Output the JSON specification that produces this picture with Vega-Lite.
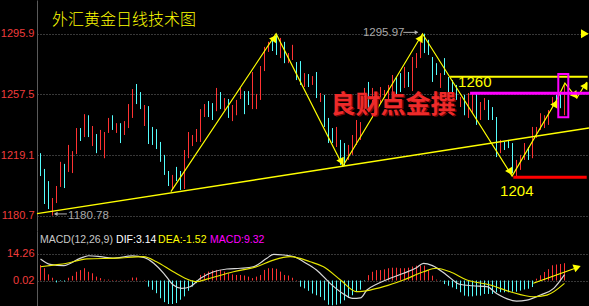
{
"$schema": "https://vega.github.io/schema/vega-lite/v6.json",
"background": "#000000",
"padding": 0,
"spacing": 0,
"config": {"view": {"stroke": null}},
"resolve": {"scale": {"y": "independent"}},
"datasets": {
"bars": [
{"k":0,"h":1220.3,"l":1205.8,"d":"c"},{"k":1,"h":1210.3,"l":1188.1,"d":"c"},{"k":2,"h":1202.6,"l":1184.9,"d":"c"},{"k":3,"h":1191.9,"l":1180.78,"d":"u"},{"k":4,"h":1199.5,"l":1188.7,"d":"u"},{"k":5,"h":1214.8,"l":1198.9,"d":"u"},{"k":6,"h":1213.5,"l":1198.2,"d":"c"},{"k":7,"h":1225.5,"l":1208.4,"d":"u"},{"k":8,"h":1221.6,"l":1207.7,"d":"u"},{"k":9,"h":1236.2,"l":1219.7,"d":"u"},
{"k":10,"h":1236.2,"l":1228.0,"d":"c"},{"k":11,"h":1245.0,"l":1230.5,"d":"u"},{"k":12,"h":1244.3,"l":1230.5,"d":"c"},{"k":13,"h":1237.5,"l":1224.8,"d":"u"},{"k":14,"h":1232.4,"l":1220.3,"d":"c"},{"k":15,"h":1235.0,"l":1222.3,"d":"u"},{"k":16,"h":1233.7,"l":1217.1,"d":"u"},{"k":17,"h":1242.6,"l":1233.1,"d":"u"},{"k":18,"h":1244.3,"l":1235.0,"d":"c"},{"k":19,"h":1239.3,"l":1233.1,"d":"u"},
{"k":20,"h":1239.3,"l":1226.7,"d":"c"},{"k":21,"h":1240.6,"l":1231.8,"d":"u"},{"k":22,"h":1251.4,"l":1236.2,"d":"u"},{"k":23,"h":1260.9,"l":1242.6,"d":"u"},{"k":24,"h":1264.1,"l":1251.4,"d":"c"},{"k":25,"h":1259.0,"l":1248.2,"d":"c"},{"k":26,"h":1250.8,"l":1237.5,"d":"u"},{"k":27,"h":1250.1,"l":1226.1,"d":"c"},{"k":28,"h":1236.9,"l":1225.5,"d":"c"},{"k":29,"h":1235.5,"l":1222.9,"d":"c"},
{"k":30,"h":1227.4,"l":1214.8,"d":"c"},{"k":31,"h":1219.2,"l":1206.5,"d":"c"},{"k":32,"h":1209.0,"l":1199.5,"d":"c"},{"k":33,"h":1206.5,"l":1197.0,"d":"u"},{"k":34,"h":1211.6,"l":1202.6,"d":"c"},{"k":35,"h":1209.0,"l":1197.0,"d":"c"},{"k":36,"h":1222.3,"l":1197.6,"d":"u"},{"k":37,"h":1233.7,"l":1217.1,"d":"u"},{"k":38,"h":1231.8,"l":1224.8,"d":"u"},{"k":39,"h":1235.6,"l":1227.4,"d":"u"},
{"k":40,"h":1248.2,"l":1227.4,"d":"u"},{"k":41,"h":1251.4,"l":1243.2,"d":"u"},{"k":42,"h":1253.3,"l":1243.2,"d":"c"},{"k":43,"h":1252.0,"l":1241.3,"d":"c"},{"k":44,"h":1261.6,"l":1246.9,"d":"u"},{"k":45,"h":1259.0,"l":1248.2,"d":"c"},{"k":46,"h":1255.2,"l":1247.6,"d":"u"},{"k":47,"h":1254.6,"l":1242.6,"d":"c"},{"k":48,"h":1250.8,"l":1240.6,"d":"u"},{"k":49,"h":1254.0,"l":1244.3,"d":"u"},
{"k":50,"h":1261.6,"l":1254.6,"d":"u"},{"k":51,"h":1259.6,"l":1245.0,"d":"c"},{"k":52,"h":1259.6,"l":1250.8,"d":"c"},{"k":53,"h":1271.7,"l":1248.2,"d":"u"},{"k":54,"h":1257.8,"l":1248.2,"d":"u"},{"k":55,"h":1275.5,"l":1254.0,"d":"u"},{"k":56,"h":1287.6,"l":1272.3,"d":"u"},{"k":57,"h":1290.8,"l":1284.4,"d":"u"},{"k":58,"h":1292.7,"l":1285.0,"d":"c"},{"k":59,"h":1295.9,"l":1282.5,"d":"c"},
{"k":60,"h":1293.3,"l":1280.5,"d":"u"},{"k":61,"h":1290.8,"l":1277.3,"d":"c"},{"k":62,"h":1283.7,"l":1277.3,"d":"u"},{"k":63,"h":1288.9,"l":1279.3,"d":"u"},{"k":64,"h":1278.0,"l":1266.6,"d":"c"},{"k":65,"h":1278.6,"l":1263.5,"d":"c"},{"k":66,"h":1271.0,"l":1262.2,"d":"u"},{"k":67,"h":1270.4,"l":1262.2,"d":"c"},{"k":68,"h":1269.1,"l":1263.5,"d":"u"},{"k":69,"h":1271.7,"l":1255.2,"d":"c"},
{"k":70,"h":1258.4,"l":1252.7,"d":"u"},{"k":71,"h":1257.2,"l":1236.9,"d":"c"},{"k":72,"h":1242.6,"l":1226.7,"d":"c"},{"k":73,"h":1236.2,"l":1226.7,"d":"c"},{"k":74,"h":1236.9,"l":1224.2,"d":"u"},{"k":75,"h":1228.7,"l":1212.9,"d":"c"},{"k":76,"h":1226.7,"l":1212.3,"d":"c"},{"k":77,"h":1225.5,"l":1216.0,"d":"u"},{"k":78,"h":1231.8,"l":1219.2,"d":"u"},{"k":79,"h":1241.3,"l":1225.5,"d":"u"},
{"k":80,"h":1240.0,"l":1228.7,"d":"u"},{"k":81,"h":1261.6,"l":1245.7,"d":"u"},{"k":82,"h":1265.4,"l":1246.3,"d":"c"},{"k":83,"h":1261.6,"l":1249.5,"d":"u"},{"k":84,"h":1257.2,"l":1250.8,"d":"c"},{"k":85,"h":1262.2,"l":1252.0,"d":"u"},{"k":86,"h":1260.3,"l":1255.2,"d":"u"},{"k":87,"h":1263.5,"l":1254.0,"d":"u"},{"k":88,"h":1269.8,"l":1259.0,"d":"u"},{"k":89,"h":1268.5,"l":1255.9,"d":"c"},
{"k":90,"h":1271.0,"l":1259.0,"d":"c"},{"k":91,"h":1274.9,"l":1261.6,"d":"u"},{"k":92,"h":1271.7,"l":1262.2,"d":"c"},{"k":93,"h":1281.2,"l":1259.6,"d":"u"},{"k":94,"h":1283.7,"l":1274.2,"d":"u"},{"k":95,"h":1290.8,"l":1280.5,"d":"u"},{"k":96,"h":1295.97,"l":1283.7,"d":"c"},{"k":97,"h":1292.1,"l":1282.5,"d":"c"},{"k":98,"h":1281.2,"l":1265.4,"d":"c"},{"k":99,"h":1277.3,"l":1269.8,"d":"c"},
{"k":100,"h":1271.0,"l":1261.6,"d":"u"},{"k":101,"h":1280.5,"l":1269.8,"d":"c"},{"k":102,"h":1268.5,"l":1256.5,"d":"c"},{"k":103,"h":1266.6,"l":1258.4,"d":"c"},{"k":104,"h":1263.5,"l":1254.0,"d":"c"},{"k":105,"h":1255.9,"l":1249.5,"d":"u"},{"k":106,"h":1257.2,"l":1244.3,"d":"c"},{"k":107,"h":1258.4,"l":1242.6,"d":"u"},{"k":108,"h":1258.4,"l":1245.7,"d":"u"},{"k":109,"h":1258.4,"l":1238.2,"d":"c"},
{"k":110,"h":1252.7,"l":1241.3,"d":"u"},{"k":111,"h":1255.2,"l":1247.6,"d":"u"},{"k":112,"h":1254.0,"l":1241.3,"d":"c"},{"k":113,"h":1249.5,"l":1241.3,"d":"c"},{"k":114,"h":1243.2,"l":1217.8,"d":"c"},{"k":115,"h":1228.7,"l":1220.3,"d":"u"},{"k":116,"h":1227.4,"l":1222.3,"d":"c"},{"k":117,"h":1228.7,"l":1223.5,"d":"c"},{"k":118,"h":1226.7,"l":1207.7,"d":"c"},{"k":119,"h":1216.0,"l":1205.3,"d":"u"},
{"k":120,"h":1219.2,"l":1209.7,"d":"u"},{"k":121,"h":1226.7,"l":1216.0,"d":"u"},{"k":122,"h":1224.2,"l":1216.0,"d":"c"},{"k":123,"h":1236.9,"l":1217.1,"d":"u"},{"k":124,"h":1236.9,"l":1230.0,"d":"u"},{"k":125,"h":1245.6,"l":1235.0,"d":"u"},{"k":126,"h":1244.3,"l":1236.2,"d":"u"},{"k":127,"h":1247.6,"l":1238.2,"d":"u"},{"k":128,"h":1255.9,"l":1249.5,"d":"u"},{"k":129,"h":1257.2,"l":1250.8,"d":"c"},
{"k":130,"h":1259.0,"l":1248.8,"d":"c"},{"k":131,"h":1263.5,"l":1244.3,"d":"u"}
],
"macd": [
{"k":0,"m":8.3},{"k":1,"m":6.6},{"k":2,"m":3.3},{"k":3,"m":1.5},{"k":4,"m":-1},{"k":5,"m":-0.3},{"k":6,"m":-0.5},{"k":7,"m":1.5},{"k":8,"m":2.5},{"k":9,"m":4.7},
{"k":10,"m":5.6},{"k":11,"m":6.6},{"k":12,"m":4.7},{"k":13,"m":3.9},{"k":14,"m":2.1},{"k":15,"m":1.3},{"k":16,"m":0.5},{"k":17,"m":0.5},{"k":18,"m":0.3},{"k":19,"m":0.3},
{"k":20,"m":0.3},{"k":21,"m":0.2},{"k":22,"m":0.3},{"k":23,"m":1.6},{"k":24,"m":1.6},{"k":25,"m":0.1},{"k":26,"m":0.3},{"k":27,"m":-3.3},{"k":28,"m":-5},{"k":29,"m":-6.8},
{"k":30,"m":-9.5},{"k":31,"m":-11.6},{"k":32,"m":-12.6},{"k":33,"m":-12.6},{"k":34,"m":-12.1},{"k":35,"m":-10.3},{"k":36,"m":-8.5},{"k":37,"m":-5.5},{"k":38,"m":-3.2},{"k":39,"m":-1.4},
{"k":40,"m":3.0},{"k":41,"m":3.9},{"k":42,"m":4.8},{"k":43,"m":5.4},{"k":44,"m":5.7},{"k":45,"m":5.7},{"k":46,"m":4.8},{"k":47,"m":3.9},{"k":48,"m":3.3},{"k":49,"m":3.0},
{"k":50,"m":3.0},{"k":51,"m":2.7},{"k":52,"m":2.1},{"k":53,"m":1.3},{"k":54,"m":2.1},{"k":55,"m":3.0},{"k":56,"m":5.7},{"k":57,"m":6.6},{"k":58,"m":6.6},{"k":59,"m":6.3},
{"k":60,"m":4.8},{"k":61,"m":3.0},{"k":62,"m":2.7},{"k":63,"m":1.5},{"k":64,"m":0.3},{"k":65,"m":-3.3},{"k":66,"m":-4.2},{"k":67,"m":-5.5},{"k":68,"m":-7},{"k":69,"m":-7.9},
{"k":70,"m":-8.8},{"k":71,"m":-10.6},{"k":72,"m":-13},{"k":73,"m":-13.3},{"k":74,"m":-13},{"k":75,"m":-12.4},{"k":76,"m":-10.6},{"k":77,"m":-9.4},{"k":78,"m":-7.9},{"k":79,"m":-6.2},
{"k":80,"m":-4.9},{"k":81,"m":-0.3},{"k":82,"m":2.9},{"k":83,"m":4.7},{"k":84,"m":5.6},{"k":85,"m":5.6},{"k":86,"m":6.0},{"k":87,"m":6.6},{"k":88,"m":6.9},{"k":89,"m":6.9},
{"k":90,"m":6.6},{"k":91,"m":6.6},{"k":92,"m":6.9},{"k":93,"m":7.5},{"k":94,"m":8.0},{"k":95,"m":8.0},{"k":96,"m":8.0},{"k":97,"m":5.6},{"k":98,"m":2.6},{"k":99,"m":0.5},
{"k":100,"m":-0.2},{"k":101,"m":-1.9},{"k":102,"m":-2.8},{"k":103,"m":-3.7},{"k":104,"m":-4.6},{"k":105,"m":-6.3},{"k":106,"m":-8.1},{"k":107,"m":-8.5},{"k":108,"m":-8.5},{"k":109,"m":-8.1},
{"k":110,"m":-8.1},{"k":111,"m":-7.2},{"k":112,"m":-7.2},{"k":113,"m":-7.2},{"k":114,"m":-6.3},{"k":115,"m":-6.3},{"k":116,"m":-6.3},{"k":117,"m":-6.3},{"k":118,"m":-6},{"k":119,"m":-6},
{"k":120,"m":-5.4},{"k":121,"m":-4.8},{"k":122,"m":-4.4},{"k":123,"m":-3.5},{"k":124,"m":1.0},{"k":125,"m":2.8},{"k":126,"m":4.6},{"k":127,"m":6.1},{"k":128,"m":8.2},{"k":129,"m":8.6},
{"k":130,"m":8.9},{"k":131,"m":9.32}
],
"dif": [
{"k":0,"v":11.6},{"k":2.4,"v":8.7},{"k":5.8,"v":8.0},{"k":10,"v":12.0},{"k":12,"v":13.3},{"k":15,"v":12.8},{"k":18,"v":12.0},{"k":23,"v":13.2},{"k":26,"v":12.3},{"k":28.3,"v":9.3},{"k":30.8,"v":3.9},{"k":33.2,"v":-2.4},{"k":35.3,"v":-4.2},{"k":37.4,"v":-3.3},{"k":40,"v":1.2},{"k":43.3,"v":4.7},{"k":46.6,"v":6.2},{"k":50,"v":6.6},{"k":53.2,"v":7.4},{"k":56.6,"v":12.0},{"k":58.3,"v":14.1},{"k":60.8,"v":13.7},{"k":63.5,"v":12.8},{"k":65.75,"v":10.1},{"k":69,"v":5.7},{"k":72.4,"v":-1.5},{"k":75.75,"v":-7.2},{"k":78,"v":-9.6},{"k":80,"v":-9.3},{"k":81.6,"v":-5.1},{"k":84,"v":-2.0},{"k":87.4,"v":1.2},{"k":90.75,"v":3.9},{"k":94,"v":6.9},{"k":95.75,"v":9.2},{"k":98,"v":8.0},{"k":101.5,"v":3.0},{"k":104.8,"v":-2.0},{"k":108,"v":-2.8},{"k":111.6,"v":-3.3},{"k":114,"v":-6.9},{"k":119,"v":-11.0},{"k":121.6,"v":-10.5},{"k":125,"v":-7.8},{"k":128.3,"v":-4.2},{"k":131,"v":3.14}
],
"dea": [
{"k":0,"v":7.4},{"k":3.25,"v":8.3},{"k":6.6,"v":9.3},{"k":11.6,"v":11.6},{"k":19,"v":12.0},{"k":25.75,"v":12.8},{"k":29,"v":10.1},{"k":33.2,"v":4.7},{"k":36.6,"v":0.8},{"k":39,"v":-0.6},{"k":41.6,"v":0.8},{"k":48.25,"v":4.7},{"k":54,"v":7.4},{"k":58.25,"v":11.0},{"k":62.4,"v":12.8},{"k":67.4,"v":10.1},{"k":70.75,"v":7.4},{"k":75,"v":0.3},{"k":79,"v":-6.0},{"k":82.4,"v":-5.1},{"k":85.75,"v":-3.3},{"k":90.75,"v":0.3},{"k":95.75,"v":4.7},{"k":99,"v":6.6},{"k":102.4,"v":4.7},{"k":106.6,"v":0.3},{"k":112.4,"v":-2.4},{"k":117.4,"v":-6.0},{"k":123.2,"v":-8.7},{"k":126.6,"v":-7.8},{"k":131,"v":-1.52}
],
"zig": [
{"k":32.6,"v":1195.9},{"k":58.9,"v":1295.9},{"k":75.6,"v":1212.2},{"k":95.5,"v":1295.9},{"k":117.9,"v":1205.8},{"k":129.05,"v":1254.0},{"k":131.1,"v":1264.7},{"k":134.05,"v":1255.2},{"k":136.55,"v":1265.4}
],
"heads": [
{"k":58.5,"v":1293.3,"a":34},{"k":75.3,"v":1214.8,"a":153},{"k":95.1,"v":1293.3,"a":31},{"k":117.5,"v":1208.4,"a":148},{"k":128.8,"v":1251.8,"a":30},{"k":133.7,"v":1256.8,"a":142},{"k":136.3,"v":1263.3,"a":32}
]
},
"vconcat": [
{
"width": 552, "height": 231,
"layer": [
{"data": {"name": "bars"}, "mark": {"type": "rule", "strokeWidth": 1},
 "encoding": {
  "x": {"field": "k", "type": "quantitative", "scale": {"domain": [-0.875, 137.125], "nice": false, "zero": false}, "axis": null},
  "y": {"field": "l", "type": "quantitative", "scale": {"domain": [1171.0, 1317.3], "nice": false, "zero": false},
        "axis": {"values": [1180.7, 1219.1, 1257.5, 1295.9], "format": ".1f", "title": null, "labelColor": "#f03c3c", "labelFont": "Liberation Sans", "labelFontSize": 11, "labelPadding": 3, "ticks": false, "grid": true, "gridColor": "#707070", "gridDash": [1, 2], "domainColor": "#5a5a5a", "minExtent": 37, "maxExtent": 37}},
  "y2": {"field": "h"},
  "color": {"field": "d", "type": "nominal", "scale": {"domain": ["u", "c"], "range": ["#ff3232", "#54fcfc"]}, "legend": null}
 }},
{"data": {"values": [{"k": -0.875, "v": 1182.0}, {"k": 137.125, "v": 1236.2}]}, "mark": {"type": "line", "color": "#ffff00", "strokeWidth": 1.5},
 "encoding": {"x": {"field": "k", "type": "quantitative"}, "y": {"field": "v", "type": "quantitative"}}},
{"data": {"name": "zig"}, "mark": {"type": "line", "color": "#ffff00", "strokeWidth": 1.2},
 "encoding": {"x": {"field": "k", "type": "quantitative"}, "y": {"field": "v", "type": "quantitative"}}},
{"data": {"name": "heads"}, "mark": {"type": "point", "shape": "triangle-up", "filled": true, "color": "#ffff00", "size": 70, "opacity": 1},
 "encoding": {"x": {"field": "k", "type": "quantitative"}, "y": {"field": "v", "type": "quantitative"}, "angle": {"field": "a", "type": "quantitative", "scale": null}}},
{"mark": {"type": "rule", "color": "#ffff00", "strokeWidth": 1.5}, "encoding": {"y": {"datum": 1295.9}}},
{"data": {"values": [{"k": 136.1, "v": 1295.9}]}, "mark": {"type": "point", "shape": "triangle-right", "filled": true, "color": "#ffff00", "size": 80, "opacity": 1},
 "encoding": {"x": {"field": "k", "type": "quantitative"}, "y": {"field": "v", "type": "quantitative"}}},
{"data": {"values": [{"k1": 102.4, "k2": 136.8, "v": 1268.7}]}, "mark": {"type": "rule", "color": "#ffff00", "strokeWidth": 2},
 "encoding": {"x": {"field": "k1", "type": "quantitative"}, "x2": {"field": "k2"}, "y": {"field": "v", "type": "quantitative"}}},
{"data": {"values": [{"k1": 107.4, "k2": 137.125, "v": 1258.2}]}, "mark": {"type": "rule", "color": "#ff00ff", "strokeWidth": 3},
 "encoding": {"x": {"field": "k1", "type": "quantitative"}, "x2": {"field": "k2"}, "y": {"field": "v", "type": "quantitative"}}},
{"data": {"values": [{"k1": 118.2, "k2": 136.55, "v": 1205.0}]}, "mark": {"type": "rule", "color": "#ff0000", "strokeWidth": 3},
 "encoding": {"x": {"field": "k1", "type": "quantitative"}, "x2": {"field": "k2"}, "y": {"field": "v", "type": "quantitative"}}},
{"data": {"values": [{"k1": 129.45, "k2": 131.95, "v1": 1270.4, "v2": 1243.0}]}, "mark": {"type": "rect", "fill": null, "fillOpacity": 0, "stroke": "#ff00ff", "strokeWidth": 2},
 "encoding": {"x": {"field": "k1", "type": "quantitative"}, "x2": {"field": "k2"}, "y": {"field": "v1", "type": "quantitative"}, "y2": {"field": "v2"}}},
{"data": {"values": [{"k1": 90.7, "k2": 94.2, "v": 1296.8}, {"k1": 3.6, "k2": 6.6, "v": 1181.8}]}, "mark": {"type": "rule", "color": "#b0b0b0", "strokeWidth": 1},
 "encoding": {"x": {"field": "k1", "type": "quantitative"}, "x2": {"field": "k2"}, "y": {"field": "v", "type": "quantitative"}}},
{"data": {"values": [{"k": 94.0, "v": 1296.8, "a": 90}, {"k": 3.8, "v": 1181.8, "a": 270}]}, "mark": {"type": "point", "shape": "triangle-up", "filled": true, "color": "#b0b0b0", "size": 18, "opacity": 1},
 "encoding": {"x": {"field": "k", "type": "quantitative"}, "y": {"field": "v", "type": "quantitative"}, "angle": {"field": "a", "type": "quantitative", "scale": null}}},
{"data": {"values": [{"k": 80.6, "v": 1296.3, "t": "1295.97"}, {"k": 6.9, "v": 1180.5, "t": "1180.78"}]}, "mark": {"type": "text", "align": "left", "baseline": "middle", "color": "#a8a8a8", "font": "Liberation Sans", "fontSize": 11.5},
 "encoding": {"x": {"field": "k", "type": "quantitative"}, "y": {"field": "v", "type": "quantitative"}, "text": {"field": "t"}}},
{"data": {"values": [{"k": 2.875, "v": 1304.6, "t": "外汇黄金日线技术图"}]}, "mark": {"type": "text", "align": "left", "baseline": "middle", "color": "#ffff00", "font": "Noto Sans CJK SC", "fontWeight": 300, "fontSize": 16},
 "encoding": {"x": {"field": "k", "type": "quantitative"}, "y": {"field": "v", "type": "quantitative"}, "text": {"field": "t"}}},
{"data": {"values": [{"k": 104.4, "v": 1265.4, "t": "1260"}, {"k": 114.9, "v": 1196.3, "t": "1204"}]}, "mark": {"type": "text", "align": "left", "baseline": "middle", "color": "#ffff00", "font": "Liberation Sans", "fontSize": 15},
 "encoding": {"x": {"field": "k", "type": "quantitative"}, "y": {"field": "v", "type": "quantitative"}, "text": {"field": "t"}}},
{"data": {"values": [{"k": 88.1, "v": 1251.0, "t": "良财点金撰"}]}, "mark": {"type": "text", "align": "center", "baseline": "middle", "color": "#6e0808", "font": "Noto Sans CJK SC", "fontWeight": "bold", "fontSize": 25, "dx": 1.5, "dy": 1.5},
 "encoding": {"x": {"field": "k", "type": "quantitative"}, "y": {"field": "v", "type": "quantitative"}, "text": {"field": "t"}}},
{"data": {"values": [{"k": 88.1, "v": 1251.0, "t": "良财点金撰"}]}, "mark": {"type": "text", "align": "center", "baseline": "middle", "color": "#ee2a2a", "font": "Noto Sans CJK SC", "fontWeight": "bold", "fontSize": 25},
 "encoding": {"x": {"field": "k", "type": "quantitative"}, "y": {"field": "v", "type": "quantitative"}, "text": {"field": "t"}}}
]
},
{
"width": 552, "height": 75,
"layer": [
{"data": {"name": "macd"}, "mark": {"type": "rule", "strokeWidth": 1},
 "encoding": {
  "x": {"field": "k", "type": "quantitative", "scale": {"domain": [-0.875, 137.125], "nice": false, "zero": false}, "axis": null},
  "y": {"field": "m", "type": "quantitative", "scale": {"domain": [-13.67, 26.6], "nice": false, "zero": false},
        "axis": {"values": [0.02, 14.26], "format": ".2f", "title": null, "labelColor": "#f03c3c", "labelFont": "Liberation Sans", "labelFontSize": 11, "labelPadding": 3, "ticks": false, "grid": true, "gridColor": "#707070", "gridDash": [1, 2], "domainColor": "#5a5a5a", "minExtent": 37, "maxExtent": 37}},
  "y2": {"datum": 0.02},
  "color": {"condition": {"test": "datum.m >= 0", "value": "#ff3232"}, "value": "#54fcfc"}
 }},
{"mark": {"type": "rule", "color": "#505050", "strokeWidth": 1.5}, "encoding": {"y": {"datum": 26.6}}},
{"data": {"name": "dif"}, "mark": {"type": "line", "color": "#d8d8d8", "strokeWidth": 1.2, "interpolate": "monotone"},
 "encoding": {"x": {"field": "k", "type": "quantitative"}, "y": {"field": "v", "type": "quantitative"}}},
{"data": {"name": "dea"}, "mark": {"type": "line", "color": "#e6e600", "strokeWidth": 1.2, "interpolate": "monotone"},
 "encoding": {"x": {"field": "k", "type": "quantitative"}, "y": {"field": "v", "type": "quantitative"}}},
{"data": {"values": [{"k1": 123.2, "k2": 134.2, "v1": -1.48, "v2": 7.0}]}, "mark": {"type": "rule", "color": "#ffff00", "strokeWidth": 1.2},
 "encoding": {"x": {"field": "k1", "type": "quantitative"}, "x2": {"field": "k2"}, "y": {"field": "v1", "type": "quantitative"}, "y2": {"field": "v2"}}},
{"data": {"values": [{"k": 134.2, "v": 7.2, "a": 70}]}, "mark": {"type": "point", "shape": "triangle-up", "filled": true, "color": "#ffff00", "size": 70, "opacity": 1},
 "encoding": {"x": {"field": "k", "type": "quantitative"}, "y": {"field": "v", "type": "quantitative"}, "angle": {"field": "a", "type": "quantitative", "scale": null}}},
{"data": {"values": [{"k": -0.125, "v": 21.77, "t": "MACD(12,26,9)"}]}, "mark": {"type": "text", "align": "left", "baseline": "middle", "color": "#c8c8c8", "font": "Liberation Sans", "fontSize": 10.5},
 "encoding": {"x": {"field": "k", "type": "quantitative"}, "y": {"field": "v", "type": "quantitative"}, "text": {"field": "t"}}},
{"data": {"values": [{"k": 18.9, "v": 21.77, "t": "DIF:3.14"}]}, "mark": {"type": "text", "align": "left", "baseline": "middle", "color": "#ffffff", "font": "Liberation Sans", "fontSize": 10.5},
 "encoding": {"x": {"field": "k", "type": "quantitative"}, "y": {"field": "v", "type": "quantitative"}, "text": {"field": "t"}}},
{"data": {"values": [{"k": 29.4, "v": 21.77, "t": "DEA:-1.52"}]}, "mark": {"type": "text", "align": "left", "baseline": "middle", "color": "#ffff00", "font": "Liberation Sans", "fontSize": 10.5},
 "encoding": {"x": {"field": "k", "type": "quantitative"}, "y": {"field": "v", "type": "quantitative"}, "text": {"field": "t"}}},
{"data": {"values": [{"k": 42.4, "v": 21.77, "t": "MACD:9.32"}]}, "mark": {"type": "text", "align": "left", "baseline": "middle", "color": "#ff00ff", "font": "Liberation Sans", "fontSize": 10.5},
 "encoding": {"x": {"field": "k", "type": "quantitative"}, "y": {"field": "v", "type": "quantitative"}, "text": {"field": "t"}}}
]
}
]
}
